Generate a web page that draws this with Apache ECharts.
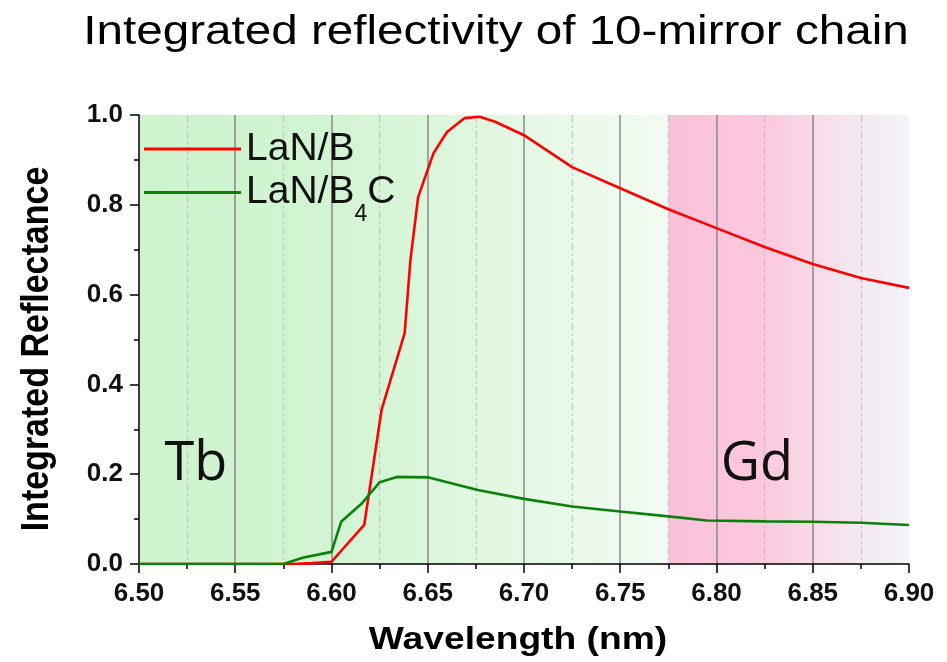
<!DOCTYPE html>
<html>
<head>
<meta charset="utf-8">
<script src="https://cdn.jsdelivr.net/npm/echarts@6/dist/echarts.min.js"></script>
<style>html,body{margin:0;padding:0;background:#fff}#chart{width:947px;height:662px}</style>
</head>
<body>
<div id="chart"></div>
<script>
// ---------- data ----------
const TITLE = 'Integrated reflectivity of 10-mirror chain';
const X_NAME = 'Wavelength (nm)';
const Y_NAME = 'Integrated Reflectance';
const SERIES_NAMES = ['LaN/B', 'LaN/B4C'];

const lanbWl = [6.500, 6.550, 6.580, 6.590, 6.600, 6.617, 6.626, 6.638, 6.641, 6.645, 6.653, 6.660, 6.669, 6.677, 6.685, 6.700, 6.725, 6.750, 6.775, 6.800, 6.825, 6.850, 6.875, 6.900];
const lanbR  = [0.000, 0.000, 0.000, 0.002, 0.005, 0.087, 0.343, 0.514, 0.677, 0.817, 0.915, 0.962, 0.993, 0.996, 0.985, 0.955, 0.884, 0.837, 0.790, 0.748, 0.706, 0.668, 0.637, 0.615];

const lanb4cWl = [6.500, 6.575, 6.585, 6.600, 6.605, 6.616, 6.625, 6.634, 6.650, 6.676, 6.700, 6.725, 6.750, 6.775, 6.795, 6.825, 6.850, 6.875, 6.900];
const lanb4cR  = [0.000, 0.000, 0.014, 0.027, 0.094, 0.136, 0.182, 0.194, 0.193, 0.165, 0.145, 0.128, 0.117, 0.106, 0.097, 0.095, 0.094, 0.092, 0.087];

const X_MIN = 6.5, X_MAX = 6.9, X_STEP = 0.05;
const Y_MIN = 0, Y_MAX = 1, Y_STEP = 0.2;

const tbRegion = [6.5, 6.775];
const gdRegion = [6.775, 6.9];
const regionNames = ['Tb', 'Gd'];
const regionLabelWl = [6.5295, 6.821];
const regionLabelR = [0.222, 0.222];

// ---------- chart ----------
const chart = echarts.init(document.getElementById('chart'), null, {renderer: 'canvas'});
const zip = (xs, ys) => xs.map((x, i) => [x, ys[i]]);
const FONT = '"Liberation Sans", Arial, sans-serif';

const greenGrad = new echarts.graphic.LinearGradient(0, 0, 1, 0, [
  {offset: 0, color: '#cdf3cd'}, {offset: 0.36, color: '#d2f4d2'},
  {offset: 0.55, color: '#dbf6db'}, {offset: 0.73, color: '#e5f8e5'}, {offset: 1, color: '#f2fbf2'}
]);
const pinkGrad = new echarts.graphic.LinearGradient(0, 0, 1, 0, [
  {offset: 0, color: '#fcc1db'}, {offset: 0.4, color: '#fbc8de'},
  {offset: 0.6, color: '#f8dae7'}, {offset: 0.8, color: '#f5e9f1'}, {offset: 1, color: '#f3f3f9'}
]);

const legendCommon = {
  left: 144, orient: 'vertical', padding: 0, icon: 'rect', itemWidth: 97, itemHeight: 3,
  selectedMode: false,
  textStyle: {fontFamily: FONT, fontSize: 39, lineHeight: 42, color: '#111',
    rich: {sub: {fontFamily: FONT, fontSize: 23, lineHeight: 23, color: '#111', padding: [44, 0, 0, 0]}}},
  formatter: n => n === SERIES_NAMES[1] ? 'LaN/B{sub|4}C' : n
};

const option = {
  animation: false,
  backgroundColor: '#fff',
  grid: {left: 139, right: 38, top: 115, bottom: 98, outerBoundsMode: 'none', containLabel: false},
  legend: [
    Object.assign({}, legendCommon, {top: 128, data: [SERIES_NAMES[0]]}),
    Object.assign({}, legendCommon, {top: 159, data: [SERIES_NAMES[1]]})
  ],
  graphic: [
    {type: 'text', x: 496, y: 33, scaleX: 1.19, z: 10,
     style: {text: TITLE, x: 0, y: 0, align: 'center', verticalAlign: 'middle', textAlign: 'center', textVerticalAlign: 'middle',
             font: 'normal 40px ' + FONT, fill: '#000'}},
    {type: 'text', x: 518, y: 640, scaleX: 1.2, z: 10,
     style: {text: X_NAME, x: 0, y: 0, align: 'center', verticalAlign: 'middle', textAlign: 'center', textVerticalAlign: 'middle',
             font: 'bold 31px ' + FONT, fill: '#000'}},
    {type: 'text', x: 37, y: 349, rotation: Math.PI / 2, scaleY: 1.12, z: 10,
     style: {text: Y_NAME, x: 0, y: 0, align: 'center', verticalAlign: 'middle', textAlign: 'center', textVerticalAlign: 'middle',
             font: 'bold 34px ' + FONT, fill: '#000'}}
  ],
  xAxis: {
    type: 'value', min: X_MIN, max: X_MAX, interval: X_STEP, z: 2,
    axisLine: {show: true, onZero: false, lineStyle: {color: '#000', width: 1.5}},
    axisTick: {show: true, inside: false, length: 9, lineStyle: {color: '#000', width: 1.5}},
    minorTick: {show: true, splitNumber: 2, length: 5, lineStyle: {color: '#000', width: 1.5}},
    axisLabel: {show: true, margin: 17, fontFamily: FONT, fontSize: 26, fontWeight: 'bold', color: '#111',
      showMinLabel: true, showMaxLabel: true, hideOverlap: false, formatter: v => v.toFixed(2)},
    splitLine: {show: true, showMinLine: false, showMaxLine: false, lineStyle: {color: '#8a8a8a', width: 1.5}},
    minorSplitLine: {show: true, lineStyle: {color: '#c4c4c4', width: 1.2, type: [8, 3, 2, 3]}}
  },
  yAxis: {
    type: 'value', min: Y_MIN, max: Y_MAX, interval: Y_STEP, z: 2,
    axisLine: {show: true, onZero: false, lineStyle: {color: '#000', width: 1.5}},
    axisTick: {show: true, inside: false, length: 9, lineStyle: {color: '#000', width: 1.5}},
    minorTick: {show: true, splitNumber: 2, length: 5, lineStyle: {color: '#000', width: 1.5}},
    axisLabel: {show: true, margin: 16, fontFamily: FONT, fontSize: 26, fontWeight: 'bold', color: '#111',
      showMinLabel: true, showMaxLabel: true, formatter: v => v.toFixed(1)},
    splitLine: {show: false},
    minorSplitLine: {show: false}
  },
  series: [
    {
      type: 'line', name: 'regions', data: [], z: 0, silent: true, symbol: 'none',
      markArea: {
        silent: true, z: 0,
        data: [
          [{xAxis: tbRegion[0], itemStyle: {color: greenGrad}}, {xAxis: tbRegion[1]}],
          [{xAxis: gdRegion[0], itemStyle: {color: pinkGrad}}, {xAxis: gdRegion[1]}]
        ]
      },
      markPoint: {
        silent: true, symbol: 'rect', symbolSize: 0, z: 4,
        label: {show: true, position: 'inside', formatter: '{b}', fontFamily: '"Open Sans", sans-serif', fontSize: 54, color: '#111'},
        data: regionNames.map((n, i) => ({name: n, coord: [regionLabelWl[i], regionLabelR[i]]}))
      }
    },
    {
      type: 'line', name: SERIES_NAMES[0], data: zip(lanbWl, lanbR), z: 3,
      symbol: 'none', smooth: false,
      lineStyle: {color: '#ff0000', width: 2.6}, itemStyle: {color: '#ff0000'}
    },
    {
      type: 'line', name: SERIES_NAMES[1], data: zip(lanb4cWl, lanb4cR), z: 3,
      symbol: 'none', smooth: false,
      lineStyle: {color: '#0b800b', width: 2.6}, itemStyle: {color: '#0b800b'}
    }
  ]
};
chart.setOption(option);
</script>
</body>
</html>
